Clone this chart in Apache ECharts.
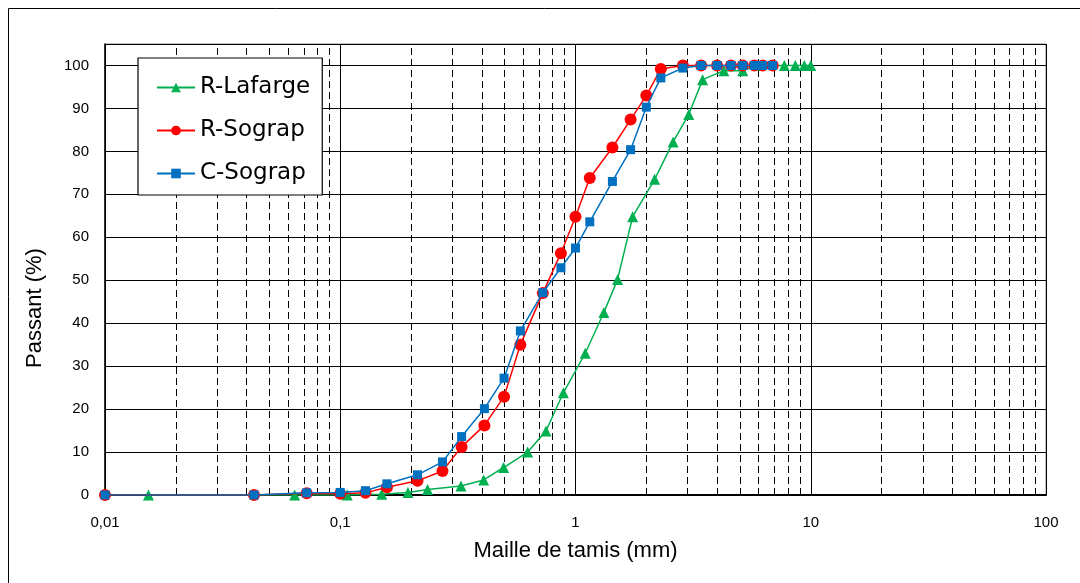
<!DOCTYPE html>
<html>
<head>
<meta charset="utf-8">
<script src="https://cdn.jsdelivr.net/npm/echarts@6/dist/echarts.min.js"></script>
<style>
html,body{margin:0;padding:0;background:#fff;}
#chart{width:1080px;height:583px;}
</style>
</head>
<body>
<div id="chart"></div>
<script>
// ---- Data ----
const lafargeX = [0.0153, 0.064, 0.107, 0.15, 0.194, 0.235, 0.326, 0.407, 0.495, 0.626, 0.749, 0.888, 1.10, 1.32, 1.51, 1.75, 2.17, 2.60, 3.03, 3.47, 4.27, 5.14, 5.95, 7.72, 8.6, 9.39, 10];
const lafargeY = [0, 0, 0, 0.2, 0.6, 1.3, 2.1, 3.5, 6.4, 10.0, 14.9, 23.8, 33.0, 42.5, 50.2, 64.8, 73.5, 82.2, 88.6, 96.7, 98.8, 98.8, 100, 100, 100, 100, 100];

const sograpX = [0.01, 0.043, 0.072, 0.1, 0.128, 0.158, 0.213, 0.272, 0.328, 0.41, 0.497, 0.583, 0.726, 0.867, 1.0, 1.15, 1.435, 1.715, 2.0, 2.305, 2.86, 3.42, 4.0, 4.58, 5.14, 5.76, 6.25, 6.89];
const rSograpY = [0, 0, 0.4, 0.3, 0.5, 1.8, 3.3, 5.6, 11.2, 16.2, 22.9, 35.0, 47.0, 56.3, 64.8, 73.8, 80.9, 87.4, 93.0, 99.2, 100, 100, 100, 100, 100, 100, 100, 100];
const cSograpY = [0, 0, 0.5, 0.6, 1.0, 2.6, 4.7, 7.7, 13.6, 20.1, 27.2, 38.2, 47.1, 52.9, 57.5, 63.6, 73.0, 80.4, 90.3, 97.1, 99.4, 100, 100, 100, 100, 100, 100, 100];

const seriesNames = ['R-Lafarge', 'R-Sograp', 'C-Sograp'];
const minorGridX = [0.02,0.03,0.04,0.05,0.06,0.07,0.08,0.09,
                    0.2,0.3,0.4,0.5,0.6,0.7,0.8,0.9,
                    2,3,4,5,6,7,8,9,
                    20,30,40,50,60,70,80,90];

function pairs(xs, ys){ return xs.map((x,i)=>[x, ys[i]]); }

const chart = echarts.init(document.getElementById('chart'), null, {renderer:'canvas'});
const sans = '"Liberation Sans", Arial, sans-serif';
const legendFont = '"Comic Sans MS", "DejaVu Sans", sans-serif';

const option = {
  backgroundColor: '#ffffff',
  animation: false,
  graphic: [{
    type: 'rect', z: -10, silent: true,
    shape: {x: 8.5, y: 8.5, width: 1100, height: 620},
    style: {fill: 'none', stroke: '#000', lineWidth: 1}
  }],
  grid: {left: 105, right: 34, top: 44, bottom: 88, show: true, borderColor: '#888', borderWidth: 1, backgroundColor: 'transparent'},
  legend: {
    data: seriesNames,
    orient: 'vertical',
    left: 138, top: 58,
    backgroundColor: '#fff',
    borderColor: '#000', borderWidth: 1.2,
    padding: [18, 12, 10, 18],
    itemWidth: 38, itemHeight: 12, itemGap: 20,
    textStyle: {fontFamily: legendFont, fontSize: 23, color: '#000'},
    z: 20
  },
  xAxis: {
    type: 'log', logBase: 10, min: 0.01, max: 100,
    name: 'Maille de tamis (mm)', nameLocation: 'middle', nameGap: 45,
    nameTextStyle: {fontFamily: sans, fontSize: 22, color: '#000'},
    axisLine: {show: true, onZero: false, lineStyle: {color: '#000', width: 2}},
    axisTick: {show: false},
    axisLabel: {
      fontFamily: sans, fontSize: 15, color: '#000', margin: 20,
      formatter: v => String(v).replace('.', ',')
    },
    splitLine: {show: true, lineStyle: {color: '#000', width: 1, type: 'solid'}}
  },
  yAxis: {
    type: 'value', min: 0, max: 105, interval: 10,
    name: 'Passant (%)', nameLocation: 'middle', nameGap: 59,
    nameTextStyle: {fontFamily: sans, fontSize: 22, color: '#000', padding: [0, 77, 0, 0]},
    axisLine: {show: true, lineStyle: {color: '#000', width: 1.5}},
    axisTick: {show: false},
    axisLabel: {
      fontFamily: sans, fontSize: 15, color: '#000', margin: 16,
      formatter: v => (v > 100 ? '' : String(v))
    },
    splitLine: {show: true, lineStyle: {color: '#000', width: 1}}
  },
  series: [
    {
      name: seriesNames[0], type: 'line', data: pairs(lafargeX, lafargeY),
      symbol: 'triangle', symbolSize: 11,
      itemStyle: {color: '#00B050'}, lineStyle: {color: '#00B050', width: 1.5},
      z: 3,
      markLine: {
        silent: true, symbol: ['none','none'], label: {show: false},
        lineStyle: {color: '#000', width: 1, type: [7, 4]},
        data: minorGridX.map(v => ({xAxis: v})),
        animation: false, z: 1
      }
    },
    {
      name: seriesNames[1], type: 'line', data: pairs(sograpX, rSograpY),
      symbol: 'circle', symbolSize: 12,
      itemStyle: {color: '#FF0000'}, lineStyle: {color: '#FF0000', width: 1.5},
      z: 4
    },
    {
      name: seriesNames[2], type: 'line', data: pairs(sograpX, cSograpY),
      symbol: 'rect', symbolSize: 9,
      itemStyle: {color: '#0070C0'}, lineStyle: {color: '#0070C0', width: 1.5},
      z: 5
    }
  ]
};
chart.setOption(option);
</script>
</body>
</html>
